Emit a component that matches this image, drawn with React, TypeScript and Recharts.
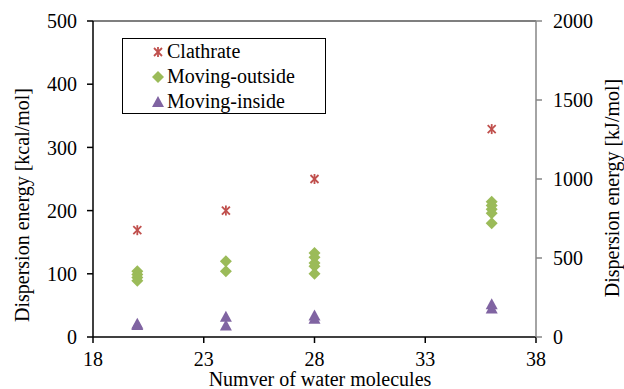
import React from 'react';
import {
  ScatterChart,
  Scatter,
  XAxis,
  YAxis,
  Legend,
  ReferenceLine,
} from 'recharts';

// Number of water molecules vs dispersion energy (kcal/mol)
const clathrateX = [20, 24, 28, 36];
const clathrateY = [169, 200, 250, 329];

const outsideX = [20, 20, 20, 20, 24, 24, 28, 28, 28, 28, 28, 36, 36, 36, 36, 36];
const outsideY = [104, 99, 94, 89, 120, 104, 133, 126, 117, 112, 100, 214, 208, 202, 196, 180];

const insideX = [20, 20, 24, 24, 28, 28, 36, 36];
const insideY = [21, 19, 32, 18, 34, 29, 52, 45];

const xTicks = [18, 23, 28, 33, 38];
const leftTicks = [0, 100, 200, 300, 400, 500];
const rightTicks = [0, 500, 1000, 1500, 2000];

const RED = '#C0504D';
const GREEN = '#9BBB59';
const PURPLE = '#8064A2';
const FONT = 'Liberation Serif, Times New Roman, DejaVu Serif, serif';

const toPoints = (xs: number[], ys: number[]) => xs.map((x, i) => ({ x, y: ys[i] }));

const clathrateData = toPoints(clathrateX, clathrateY);
const outsideData = toPoints(outsideX, outsideY);
const insideData = toPoints(insideX, insideY);

// Excel-style markers
const StarMark = ({ cx, cy }: any) => (
  <g stroke={RED} strokeWidth={1.8}>
    <line x1={cx - 4} y1={cy - 4} x2={cx + 4} y2={cy + 4} />
    <line x1={cx - 4} y1={cy + 4} x2={cx + 4} y2={cy - 4} />
    <line x1={cx} y1={cy - 5} x2={cx} y2={cy + 5} />
  </g>
);

const DiamondMark = ({ cx, cy }: any) => (
  <polygon
    points={`${cx},${cy - 6} ${cx + 6},${cy} ${cx},${cy + 6} ${cx - 6},${cy}`}
    fill={GREEN}
  />
);

const TriangleMark = ({ cx, cy }: any) => (
  <polygon
    points={`${cx},${cy - 6} ${cx + 6},${cy + 5} ${cx - 6},${cy + 5}`}
    fill={PURPLE}
  />
);

const legendItems = [
  { name: 'Clathrate', Mark: StarMark },
  { name: 'Moving-outside', Mark: DiamondMark },
  { name: 'Moving-inside', Mark: TriangleMark },
];

const LegendBox = () => (
  <div
    style={{
      border: '1.5px solid #000',
      background: '#fff',
      fontFamily: FONT,
      fontSize: 20,
      color: '#000',
      padding: '0 0 0 28px',
      boxSizing: 'border-box',
      width: 204,
      height: 76,
      lineHeight: '25px',
    }}
  >
    {legendItems.map(({ name, Mark }) => (
      <div key={name} style={{ height: 25, display: 'flex', alignItems: 'center' }}>
        <svg width={14} height={14} style={{ marginRight: 2 }}>
          <Mark cx={7} cy={7} />
        </svg>
        <span>{name}</span>
      </div>
    ))}
  </div>
);

const tickStyle = { fontSize: 20, fill: '#000', fontFamily: FONT };

export default function App() {
  return (
    <div
      style={{
        position: 'absolute',
        left: 0,
        top: 0,
        width: 624,
        height: 389,
        background: '#fff',
        fontFamily: FONT,
      }}
    >
      <ScatterChart
        width={624}
        height={389}
        margin={{ top: 21, right: 0, bottom: 0, left: 0 }}
      >
        <XAxis
          type="number"
          dataKey="x"
          domain={[18, 38]}
          ticks={xTicks}
          height={52}
          tick={tickStyle}
          tickSize={6}
          tickMargin={9}
          stroke="#000"
          strokeWidth={1.5}
          label={{
            content: () => (
              <text x={320} y={386} textAnchor="middle" fontSize={20} fontFamily={FONT} fill="#000">
                Numver of water molecules
              </text>
            ),
          }}
        />
        <YAxis
          yAxisId="left"
          type="number"
          dataKey="y"
          domain={[0, 500]}
          ticks={leftTicks}
          width={93}
          tick={tickStyle}
          tickSize={6}
          tickMargin={10}
          stroke="#000"
          strokeWidth={1.5}
          label={{
            content: () => (
              <text
                x={22}
                y={205}
                textAnchor="middle"
                dominantBaseline="central"
                fontSize={20}
                fontFamily={FONT}
                fill="#000"
                transform="rotate(-90 22 205)"
              >
                Dispersion energy [kcal/mol]
              </text>
            ),
          }}
        />
        <YAxis
          yAxisId="right"
          orientation="right"
          type="number"
          dataKey="y"
          domain={[0, 2000]}
          ticks={rightTicks}
          width={88}
          tick={tickStyle}
          tickSize={6}
          tickMargin={11}
          stroke="#868686"
          strokeWidth={1.5}
          allowDataOverflow
          label={{
            content: () => (
              <text
                x={612}
                y={188}
                textAnchor="middle"
                dominantBaseline="central"
                fontSize={20}
                fontFamily={FONT}
                fill="#000"
                transform="rotate(-90 612 188)"
              >
                Dispersion energy [kJ/mol]
              </text>
            ),
          }}
        />
        <ReferenceLine yAxisId="left" y={500} stroke="#000" strokeWidth={1.2} />
        <Legend
          verticalAlign="middle"
          align="center"
          layout="vertical"
          wrapperStyle={{ left: 122, top: 38, width: 204, height: 76 }}
          content={() => <LegendBox />}
        />
        {/* binds the kJ/mol axis so that it is drawn; it has no points */}
        <Scatter yAxisId="right" data={[]} legendType="none" isAnimationActive={false} />
        <Scatter
          name="Clathrate"
          yAxisId="left"
          data={clathrateData}
          shape={StarMark}
          isAnimationActive={false}
        />
        <Scatter
          name="Moving-outside"
          yAxisId="left"
          data={outsideData}
          shape={DiamondMark}
          isAnimationActive={false}
        />
        <Scatter
          name="Moving-inside"
          yAxisId="left"
          data={insideData}
          shape={TriangleMark}
          isAnimationActive={false}
        />
      </ScatterChart>
    </div>
  );
}
